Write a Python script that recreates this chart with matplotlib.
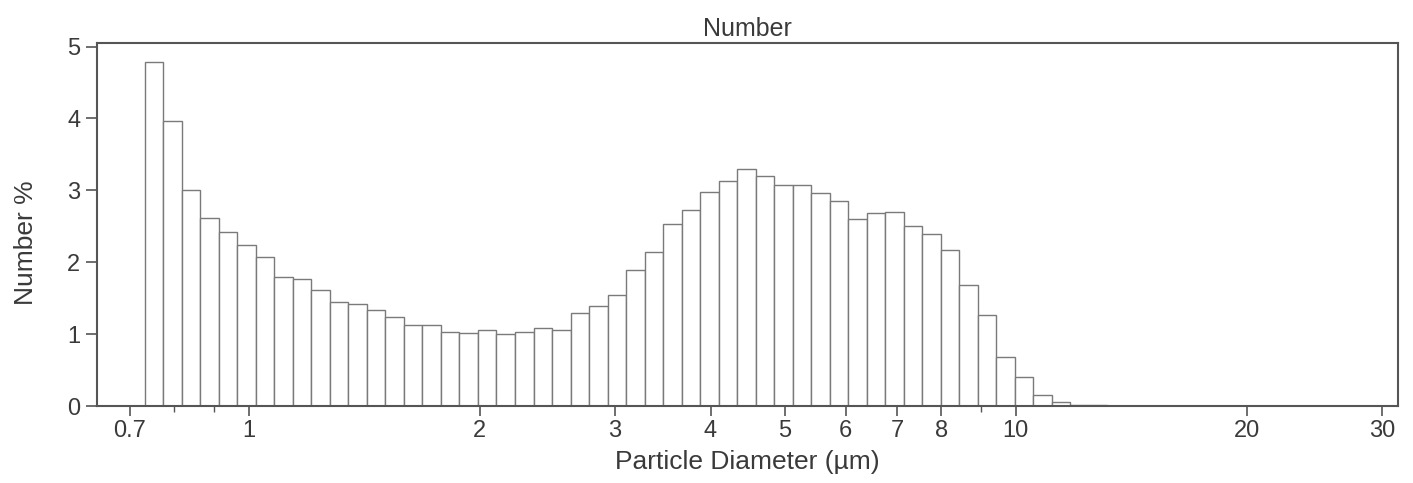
import numpy as np
import matplotlib
matplotlib.use("Agg")
import matplotlib.pyplot as plt
from matplotlib.ticker import FixedLocator, NullFormatter

plt.rcParams['font.family'] = ['Liberation Sans', 'DejaVu Sans']

# Channel geometry (log-spaced bins) and values
first_edge = 0.732          # µm, lower edge of first channel
log_step = 0.02413          # decades per channel
number_pct = [4.79, 3.96, 3.00, 2.62, 2.42, 2.24, 2.07, 1.79, 1.76, 1.62,
              1.45, 1.42, 1.34, 1.24, 1.12, 1.13, 1.03, 1.01, 1.06, 1.00,
              1.03, 1.09, 1.06, 1.29, 1.39, 1.55, 1.89, 2.14, 2.53, 2.72,
              2.98, 3.13, 3.30, 3.20, 3.08, 3.07, 2.97, 2.85, 2.60, 2.68,
              2.70, 2.50, 2.39, 2.17, 1.69, 1.26, 0.68, 0.41, 0.16, 0.06,
              0.02, 0.01]
major_ticks = [0.7, 1, 2, 3, 4, 5, 6, 7, 8, 10, 20, 30]
major_labels = ["0.7", "1", "2", "3", "4", "5", "6", "7", "8", "10", "20", "30"]
minor_ticks = [0.8, 0.9, 9]
y_ticks = [0, 1, 2, 3, 4, 5]

edges = first_edge * 10 ** (log_step * np.arange(len(number_pct) + 1))
lefts = edges[:-1]
widths = np.diff(edges)

fig = plt.figure(figsize=(14.13, 4.83), dpi=100)
fig.patch.set_facecolor('white')
ax = fig.add_axes([0.0686, 0.1594, 0.9894 - 0.0686, 0.911 - 0.1594])

ax.bar(lefts, number_pct, width=widths, align='edge', facecolor='white',
       edgecolor='#7a7a7a', linewidth=1.0)

ax.set_xscale('log')
ax.set_xlim(0.634, 31.5)
ax.set_ylim(0, 5.05)

ax.xaxis.set_major_locator(FixedLocator(major_ticks))
ax.set_xticklabels(major_labels)
ax.xaxis.set_minor_locator(FixedLocator(minor_ticks))
ax.xaxis.set_minor_formatter(NullFormatter())
ax.set_yticks(y_ticks)

txt = '#3a3a3a'
ax.tick_params(axis='both', which='major', direction='out', length=7, width=1.2,
               color='#555555', labelsize=17, labelcolor=txt, pad=3)
ax.tick_params(axis='y', which='major', length=8, pad=4)
ax.tick_params(axis='x', which='minor', direction='out', length=4, width=1.0,
               color='#555555')
for s in ax.spines.values():
    s.set_color('#555555')
    s.set_linewidth(1.5)

ax.set_title("Number", fontsize=18, color=txt, pad=5)
ax.set_xlabel("Particle Diameter (µm)", fontsize=19, color=txt, labelpad=6)
ax.set_ylabel("Number %", fontsize=19, color=txt)
ax.yaxis.set_label_coords(-0.045, 0.45)

fig.savefig("out.png", dpi=100)
